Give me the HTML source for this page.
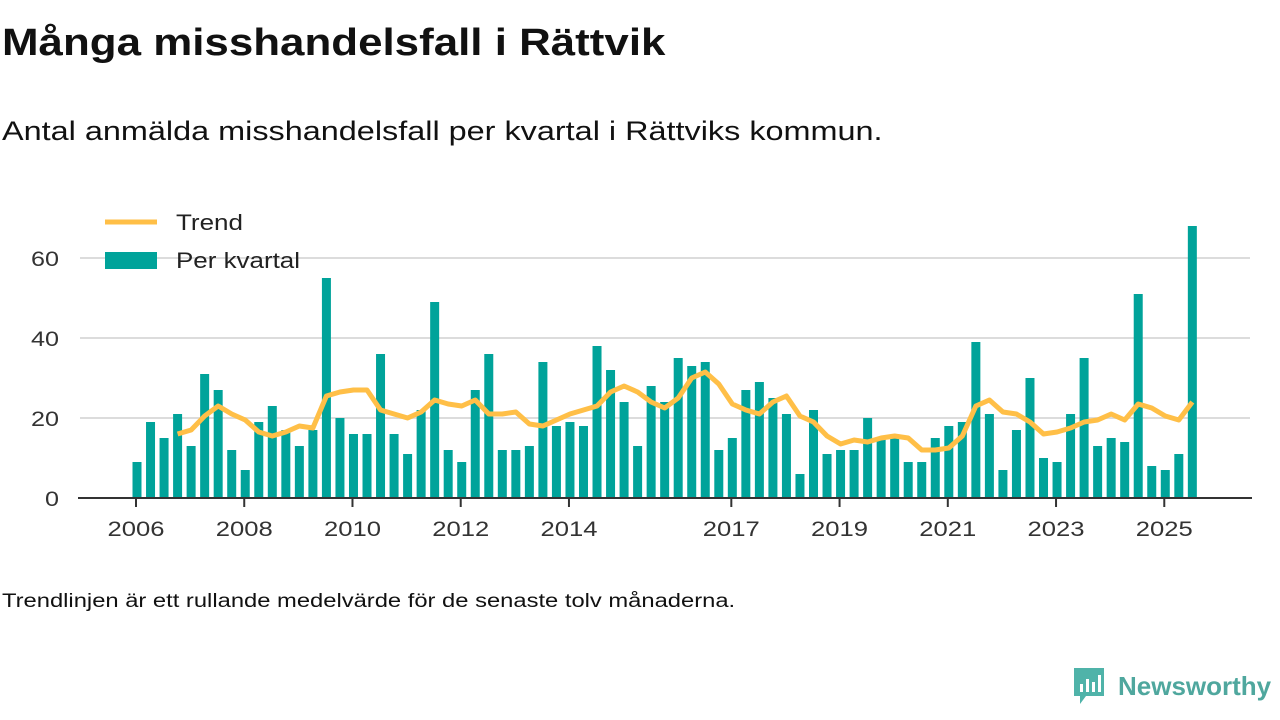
<!DOCTYPE html>
<html><head><meta charset="utf-8"><style>
body{margin:0;width:1280px;height:720px;background:#fff;font-family:"Liberation Sans",sans-serif;color:#111;overflow:hidden;position:relative}
h1{position:absolute;left:2px;top:22px;margin:0;font-size:38px;font-weight:bold;transform-origin:0 0;transform:scaleX(1.155);white-space:nowrap}
.sub{position:absolute;left:2px;top:116px;font-size:27px;transform-origin:0 0;transform:scaleX(1.2);white-space:nowrap}
.note{position:absolute;left:2px;top:591px;font-size:19px;transform-origin:0 0;transform:scaleX(1.25);white-space:nowrap}
svg text{font-family:"Liberation Sans",sans-serif}
</style></head><body>
<h1>Många misshandelsfall i Rättvik</h1>
<div class="sub">Antal anmälda misshandelsfall per kvartal i Rättviks kommun.</div>
<svg id="chart" width="1280" height="720" style="position:absolute;left:0;top:0"></svg>
<div class="note">Trendlinjen är ett rullande medelvärde för de senaste tolv månaderna.</div>
<div style="position:absolute;left:1072px;top:666px;display:flex;align-items:center">
<svg width="34" height="40"><path d="M2 2h30v28h-18l-6 8v-8h-6z" fill="#4fb3a9"/><rect x="8" y="18" width="3" height="8" fill="#fff"/><rect x="14" y="13" width="3" height="13" fill="#fff"/><rect x="20" y="16" width="3" height="10" fill="#fff"/><rect x="26" y="9" width="3" height="17" fill="#fff"/></svg>
<span style="font-size:26px;font-weight:bold;color:#4fa79e;margin-left:12px">Newsworthy</span></div>
<script>
const values=[9,19,15,21,13,31,27,12,7,19,23,17,13,17,55,20,16,16,36,16,11,22,49,12,9,27,36,12,12,13,34,18,19,18,38,32,24,13,28,24,35,33,34,12,15,27,29,25,21,6,22,11,12,12,20,15,15,9,9,15,18,19,39,21,7,17,30,10,9,21,35,13,15,14,51,8,7,11,68];
const trendStart=3;
const trend=[16,17,20.5,23,21,19.5,16.5,15.5,16.5,18,17.5,25.5,26.5,27,27,22,21,20,21.5,24.5,23.5,23,24.5,21,21,21.5,18.5,18,19.5,21,22,23,26.5,28,26.5,24,22.5,25,30,31.5,28.5,23.5,22,21,24,25.5,20.5,19,15.5,13.5,14.5,14,15,15.5,15,12,12,12.5,15.5,23,24.5,21.5,21,19,16,16.5,17.5,19,19.5,21,19.5,23.5,22.5,20.5,19.5,24];
const yTicks=[0,20,40,60];
const xTickLabels=["2006","2008","2010","2012","2014","2017","2019","2021","2023","2025"];
const xTickIdx=[0,8,16,24,32,44,52,60,68,76];
const svg=document.getElementById('chart');const NS="http://www.w3.org/2000/svg";
const x=i=>137+i*13.53;const y=v=>498-4*v;
function mk(t,a){const e=document.createElementNS(NS,t);for(const k in a)e.setAttribute(k,a[k]);svg.appendChild(e);return e;}
yTicks.forEach(v=>{
 if(v>0){const g=mk('line',{x1:80,x2:1250,y1:y(v),y2:y(v),stroke:'#dcdcdc','stroke-width':2});
 
 }
 const t=mk('text',{x:59,y:y(v)+8,'text-anchor':'end','font-size':21,fill:'#333',textLength:String(v).length*14,lengthAdjust:'spacingAndGlyphs'});t.textContent=v;
 
 
});
values.forEach((v,i)=>{const r=mk('rect',{x:x(i)-4.5,y:y(v),width:9,height:4*v,fill:'#00a39a'});
 
 });
const ax=mk('line',{x1:78,x2:1252,y1:498,y2:498,stroke:'#333','stroke-width':2});


xTickIdx.forEach((idx,k)=>{const px=x(idx)-1;
 const tk=mk('line',{x1:px,x2:px,y1:498,y2:507,stroke:'#333','stroke-width':2});
 
 
 const t=mk('text',{x:px,y:536,'text-anchor':'middle','font-size':21,fill:'#333',textLength:57,lengthAdjust:'spacingAndGlyphs'});t.textContent=xTickLabels[k];
 
 });
const pl=mk('polyline',{points:trend.map((v,i)=>x(i+trendStart)+','+y(v)).join(' '),fill:'none',stroke:'#ffbf47','stroke-width':5,'stroke-linejoin':'round'});


const l1=mk('line',{x1:105,x2:157,y1:222,y2:222,stroke:'#ffbf47','stroke-width':5});


const t1=mk('text',{x:176,y:230,'font-size':22,fill:'#222',textLength:67,lengthAdjust:'spacingAndGlyphs'});t1.textContent='Trend';


const l2=mk('rect',{x:105,y:252,width:52,height:17,fill:'#00a39a'});


const t2=mk('text',{x:176,y:268,'font-size':22,fill:'#222',textLength:124,lengthAdjust:'spacingAndGlyphs'});t2.textContent='Per kvartal';


</script>
</body></html>
